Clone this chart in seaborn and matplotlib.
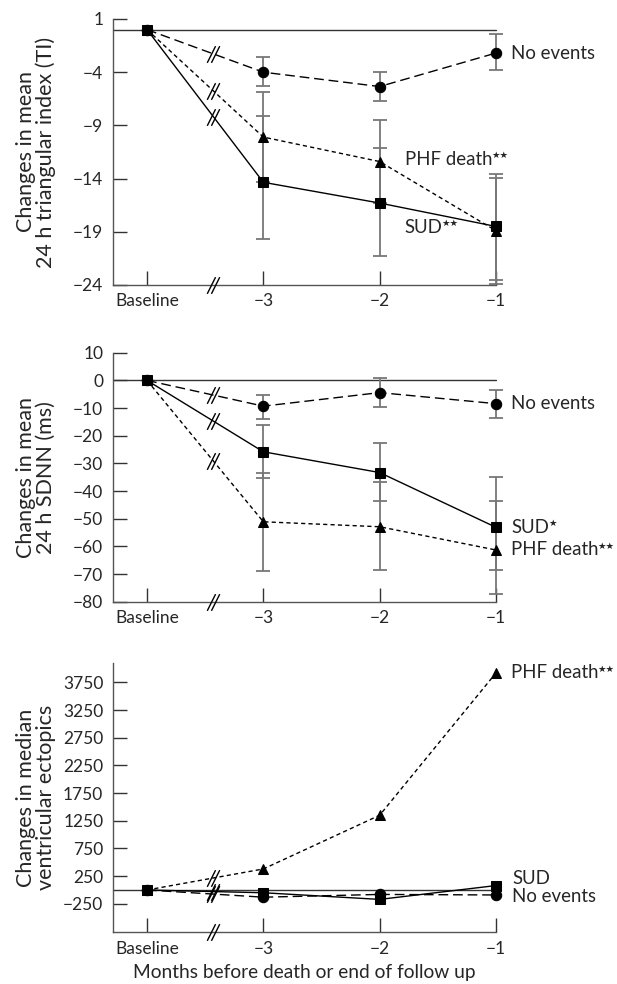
import numpy as np
import pandas as pd
import seaborn as sns
import matplotlib.pyplot as plt
from matplotlib.path import Path

# --- data ---
timepoints = ["Baseline", "\u22123", "\u22122", "\u22121"]
groups = ["No events", "PHF death", "SUD"]

# panel 1: 24 h triangular index
ti_no_events = [0, -4.0, -5.35, -2.2]
ti_no_events_lo = [np.nan, -5.3, -6.67, -3.76]
ti_no_events_hi = [np.nan, -2.6, -4.0, -0.41]
ti_phf = [0, -10.1, -12.4, -18.9]
ti_phf_lo = [np.nan, -14.3, -16.3, -23.9]
ti_phf_hi = [np.nan, -5.9, -8.46, -13.9]
ti_sud = [0, -14.35, -16.3, -18.5]
ti_sud_lo = [np.nan, -19.64, -21.3, -23.5]
ti_sud_hi = [np.nan, -8.15, -11.1, -13.56]

# panel 2: 24 h SDNN (ms)
sdnn_no_events = [0, -9.3, -4.4, -8.4]
sdnn_no_events_lo = [np.nan, -13.8, -9.7, -13.7]
sdnn_no_events_hi = [np.nan, -5.3, 0.75, -3.5]
sdnn_phf = [0, -51.1, -52.9, -61.3]
sdnn_phf_lo = [np.nan, -68.8, -68.5, -77.2]
sdnn_phf_hi = [np.nan, -33.6, -36.6, -43.5]
sdnn_sud = [0, -25.8, -33.3, -53.1]
sdnn_sud_lo = [np.nan, -35.3, -43.5, -68.5]
sdnn_sud_hi = [np.nan, -16.1, -22.7, -34.8]

# panel 3: median ventricular ectopics
ve_no_events = [0, -130, -80, -90]
ve_phf = [0, 380, 1350, 3920]
ve_sud = [0, -50, -170, 80]

ti_ticks = [1, -4, -9, -14, -19, -24]
sdnn_ticks = [10, 0, -10, -20, -30, -40, -50, -60, -70, -80]
ve_ticks = [-250, 250, 750, 1250, 1750, 2250, 2750, 3250, 3750]

# --- style ---
sns.set_style("ticks")
plt.rcParams['font.family'] = ['Lato', 'DejaVu Sans']
FS = 12.5       # tick labels
FS_LAB = 13.4   # series labels
FS_AX = 15.5    # axis titles
GRAY = '#777777'

markers = {"No events": "o", "PHF death": "^", "SUD": "s"}
dashes = {"No events": (7, 3.5), "PHF death": (3, 2.3), "SUD": ""}

# "//" break symbol
brk = Path([(-0.75, -1), (0.25, 1), (-0.25, -1), (0.75, 1)],
           [Path.MOVETO, Path.LINETO, Path.MOVETO, Path.LINETO])

fig = plt.figure(figsize=(6.17, 9.84), dpi=100)
ax1 = fig.add_axes([0.1831, 0.7104, 0.6207, 0.2703])
ax2 = fig.add_axes([0.1831, 0.3885, 0.6207, 0.2530])
ax3 = fig.add_axes([0.1831, 0.0525, 0.6207, 0.2740])

x = np.arange(len(timepoints))


def long_df(vals):
    rows = []
    for g, v in zip(groups, vals):
        for xi, yi in zip(x, v):
            rows.append({"x": xi, "value": yi, "group": g})
    return pd.DataFrame(rows)


def draw_panel(ax, vals, errs, ylim, yticks, ylabel):
    ax.axhline(0, xmin=0, xmax=1, color='#333333', lw=1.0, zorder=1)
    if errs is not None:
        for v, (lo, hi) in zip(vals, errs):
            v = np.array(v, float)
            yerr = np.vstack([v - np.array(lo), np.array(hi) - v])
            ax.errorbar(x[1:], v[1:], yerr=yerr[:, 1:], fmt='none', ecolor=GRAY,
                        elinewidth=1.3, capsize=4.8, capthick=1.3, zorder=2,
                        clip_on=False)
    df = long_df(vals)
    sns.lineplot(data=df, x="x", y="value", style="group", markers=markers,
                 dashes=dashes, color='black', lw=1.0, markersize=7.5,
                 mec='black', mfc='black', legend=False, errorbar=None,
                 sort=False, ax=ax, zorder=3)
    for ln in ax.lines:
        ln.set_clip_on(False)
    # break marks on each line between baseline and month -3
    bx = 0.57
    for v in vals:
        by = v[0] + (v[1] - v[0]) * bx
        ax.plot([bx], [by], marker=brk, ms=12, mew=1.0, color='black',
                ls='none', clip_on=False, zorder=4)
    ax.plot([bx], [ylim[0]], marker=brk, ms=12, mew=1.0, color='black',
            ls='none', clip_on=False, zorder=4)

    ax.set_xlim(-0.293, 3.0)
    ax.set_ylim(*ylim)
    ax.set_yticks(yticks)
    ax.set_xticks(x)
    ax.set_xticklabels(timepoints)
    ax.tick_params(direction='in', length=10, width=1.0, color='#333333',
                   labelsize=FS, pad=7)
    ax.tick_params(axis='x', pad=6)
    for s in ['top', 'right']:
        ax.spines[s].set_visible(False)
    for s in ['left', 'bottom']:
        ax.spines[s].set_color('#555555')
        ax.spines[s].set_linewidth(1.0)
    ax.set_xlabel("")
    ax.set_ylabel(ylabel, fontsize=FS_AX, linespacing=1.0)
    ax.yaxis.set_label_coords(-0.148, 0.5)


draw_panel(ax1, [ti_no_events, ti_phf, ti_sud],
           [(ti_no_events_lo, ti_no_events_hi), (ti_phf_lo, ti_phf_hi),
            (ti_sud_lo, ti_sud_hi)],
           (-24, 1), ti_ticks, "Changes in mean\n24 h triangular index (TI)")
draw_panel(ax2, [sdnn_no_events, sdnn_phf, sdnn_sud],
           [(sdnn_no_events_lo, sdnn_no_events_hi), (sdnn_phf_lo, sdnn_phf_hi),
            (sdnn_sud_lo, sdnn_sud_hi)],
           (-80, 10), sdnn_ticks, "Changes in mean\n24 h SDNN (ms)")
draw_panel(ax3, [ve_no_events, ve_phf, ve_sud], None,
           (-765, 4105), ve_ticks, "Changes in median\nventricular ectopics")
ax3.set_xlabel("Months before death or end of follow up", fontsize=13.8,
               labelpad=5)

# series labels, with small superscript stars
lab = dict(fontsize=FS_LAB, va='center', ha='left', clip_on=False)


def stars(ax, t, n):
    ax.annotate("\u2605" * n, xy=(0.99, 0.98), xycoords=t, va='top', ha='left',
                fontsize=6.8, family=['DejaVu Sans'], annotation_clip=False)


ax1.annotate("No events", xy=(3, ti_no_events[3]), xytext=(11, 0),
             textcoords='offset points', **lab)
t = ax1.text(2.22, -12.2, "PHF death", **lab)
stars(ax1, t, 2)
t = ax1.text(2.21, -18.6, "SUD", **lab)
stars(ax1, t, 2)

ax2.annotate("No events", xy=(3, sdnn_no_events[3]), xytext=(11, 0),
             textcoords='offset points', **lab)
t = ax2.annotate("SUD", xy=(3, sdnn_sud[3]), xytext=(11, 0),
                 textcoords='offset points', **lab)
stars(ax2, t, 1)
t = ax2.annotate("PHF death", xy=(3, sdnn_phf[3]), xytext=(11, 0),
                 textcoords='offset points', **lab)
stars(ax2, t, 2)

t = ax3.annotate("PHF death", xy=(3, ve_phf[3]), xytext=(11, 0),
                 textcoords='offset points', **lab)
stars(ax3, t, 2)
ax3.text(3.14, 200, "SUD", **lab)
ax3.text(3.14, -125, "No events", **lab)

plt.savefig("out.png", dpi=100)
